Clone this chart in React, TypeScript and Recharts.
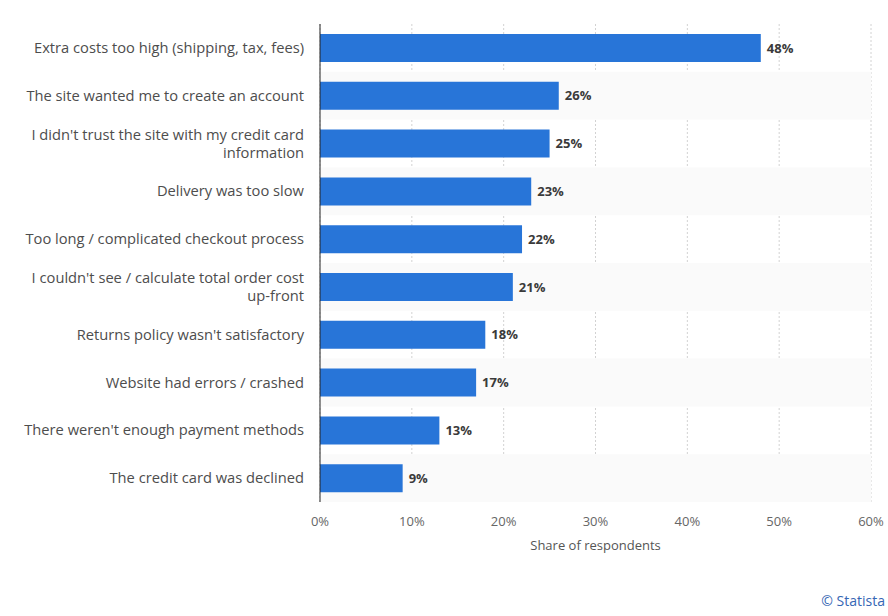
import { BarChart, Bar, XAxis, YAxis, CartesianGrid, ReferenceArea, LabelList } from 'recharts';

const reasons = [
  'Extra costs too high (shipping, tax, fees)',
  'The site wanted me to create an account',
  "I didn't trust the site with my credit card\ninformation",
  'Delivery was too slow',
  'Too long / complicated checkout process',
  "I couldn't see / calculate total order cost\nup-front",
  "Returns policy wasn't satisfactory",
  'Website had errors / crashed',
  "There weren't enough payment methods",
  'The credit card was declined',
];

const shares = [48, 26, 25, 23, 22, 21, 18, 17, 13, 9];

const xTicks = [0, 10, 20, 30, 40, 50, 60];

const FONT = '"Open Sans", sans-serif';

const chartData = reasons.map((reason, i) => ({ reason, share: shares[i] }));

// every other row gets a light stripe
const stripedRows = reasons.filter((_, i) => i % 2 === 1);

function ReasonTick({ x, y, payload }: any) {
  const lines = String(payload.value).split('\n');
  const lineHeight = 18;
  const startDy = -((lines.length - 1) * lineHeight) / 2;
  return (
    <text x={x} y={y} textAnchor="end" fill="#4d4d4d" fontSize={14.7} fontFamily={FONT}>
      {lines.map((line, i) => (
        <tspan key={i} x={x} dy={i === 0 ? startDy + 5 : lineHeight}>
          {line}
        </tspan>
      ))}
    </text>
  );
}

export default function App() {
  return (
    <div style={{ position: 'absolute', left: 0, top: 0, width: 888, height: 616, background: '#fff' }}>
      <BarChart
        width={888}
        height={616}
        data={chartData}
        layout="vertical"
        margin={{ top: 24, right: 17, bottom: 58, left: 0 }}
        barCategoryGap={10}
      >
        {stripedRows.map((r) => (
          <ReferenceArea key={r} y1={r} y2={r} fill="#fafafa" fillOpacity={1} stroke="none" ifOverflow="visible" />
        ))}
        <CartesianGrid horizontal={false} stroke="#d2d2d2" strokeDasharray="2 2" />
        <XAxis
          type="number"
          domain={[0, 60]}
          ticks={xTicks}
          tickFormatter={(v) => `${v}%`}
          axisLine={false}
          tickLine={false}
          tickMargin={9}
          height={56}
          tick={{ fill: '#666', fontSize: 13, fontFamily: FONT }}
          label={{
            value: 'Share of respondents',
            position: 'insideBottom',
            offset: 8,
            fill: '#555',
            fontSize: 13,
            fontFamily: FONT,
          }}
        />
        <YAxis
          type="category"
          dataKey="reason"
          width={320}
          axisLine={{ stroke: '#222', strokeWidth: 1 }}
          tickLine={false}
          tickMargin={10}
          tick={<ReasonTick />}
          interval={0}
        />
        <Bar dataKey="share" fill="#2875d8" isAnimationActive={false}>
          <LabelList
            dataKey="share"
            position="right"
            offset={6}
            formatter={(v: any) => `${v}%`}
            fill="#3a3a3a"
            fontSize={13}
            fontWeight="bold"
            fontFamily={FONT}
          />
        </Bar>
      </BarChart>
      <div
        style={{
          position: 'absolute',
          right: 3,
          bottom: 6,
          color: '#3566b4',
          fontSize: 14,
          fontFamily: FONT,
        }}
      >
        © Statista
      </div>
    </div>
  );
}
